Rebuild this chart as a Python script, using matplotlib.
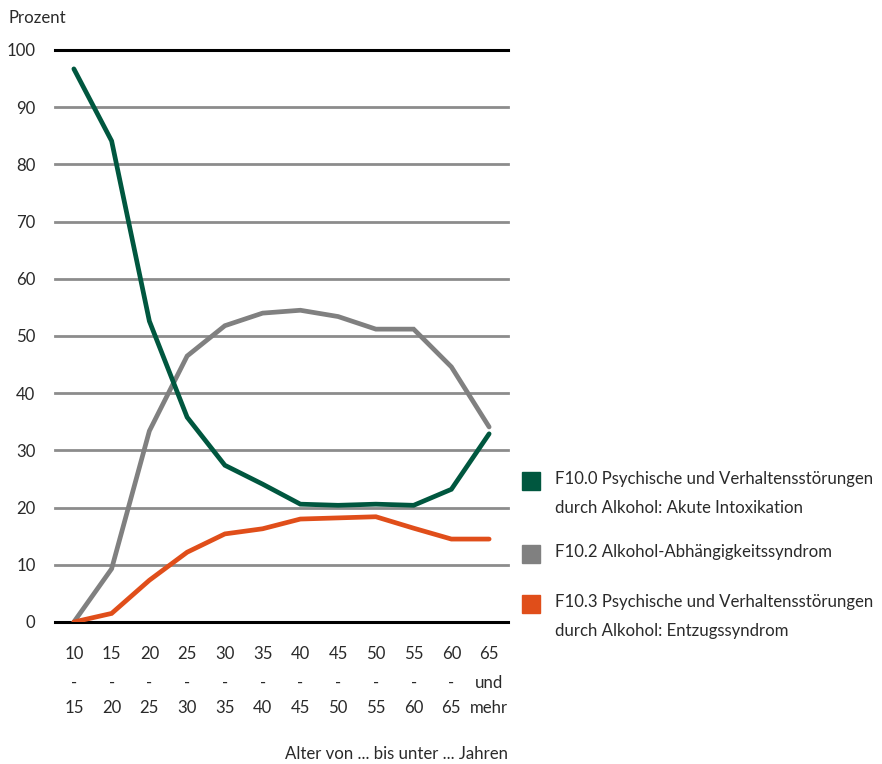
import matplotlib
matplotlib.use("Agg")
import matplotlib.pyplot as plt
import matplotlib.transforms as mtransforms
from matplotlib.patches import Rectangle

plt.rcParams['font.family'] = ['Lato', 'DejaVu Sans']

age_from = ["10", "15", "20", "25", "30", "35", "40", "45", "50", "55", "60", "65"]
age_to = ["15", "20", "25", "30", "35", "40", "45", "50", "55", "60", "65", "mehr"]
age_mid = ["-", "-", "-", "-", "-", "-", "-", "-", "-", "-", "-", "und"]

intoxikation = [96.7, 84.1, 52.6, 35.8, 27.4, 24.1, 20.6, 20.4, 20.6, 20.4, 23.2, 32.9]
abhaengigkeit = [0.0, 9.3, 33.4, 46.5, 51.8, 54.0, 54.5, 53.4, 51.2, 51.2, 44.6, 34.1]
entzug = [0.0, 1.5, 7.3, 12.2, 15.4, 16.3, 18.0, 18.2, 18.4, 16.4, 14.5, 14.5]

series_labels = [
    "F10.0 Psychische und Verhaltensstörungen\ndurch Alkohol: Akute Intoxikation",
    "F10.2 Alkohol-Abhängigkeitssyndrom",
    "F10.3 Psychische und Verhaltensstörungen\ndurch Alkohol: Entzugssyndrom",
]
colors = ["#00573F", "#808080", "#E04E1A"]
yticks = [0, 10, 20, 30, 40, 50, 60, 70, 80, 90, 100]

W, H = 882, 764
FS = 12.1
txt_color = "#2a2a2a"

fig = plt.figure(figsize=(W / 100, H / 100), dpi=100)
ax = fig.add_axes([55 / W, 1 - 622 / H, (508 - 55) / W, (622 - 50) / H])

x = list(range(len(age_from)))
ax.set_xlim(-0.5, len(x) - 0.5)
ax.set_ylim(0, 100)

for t in yticks:
    edge = t in (0, 100)
    ax.axhline(t, color="#000000" if edge else "#8c8c8c", lw=2.2 if edge else 2.0,
               zorder=1, clip_on=False)

for vals, col in zip([abhaengigkeit, entzug, intoxikation], [colors[1], colors[2], colors[0]]):
    ax.plot(x, vals, color=col, lw=3.4, solid_capstyle='round', solid_joinstyle='miter', zorder=3)

for s in ax.spines.values():
    s.set_visible(False)
ax.set_xticks([])
ax.set_yticks(yticks)
ax.set_yticklabels([str(t) for t in yticks], fontsize=FS, color=txt_color)
ax.tick_params(axis='y', length=0, pad=14)

# three-row category labels below the axis
tr = mtransforms.blended_transform_factory(ax.transData, fig.transFigure)
for i in x:
    for lab, py in zip([age_from[i], age_mid[i], age_to[i]], [654, 683, 708]):
        fig.text(i, 1 - py / H, lab, transform=tr, ha='center', va='center',
                 fontsize=FS, color=txt_color)

fig.text(8 / W, 1 - 18 / H, "Prozent", ha='left', va='center', fontsize=FS, color=txt_color)
fig.text(508 / W, 1 - 754 / H, "Alter von ... bis unter ... Jahren", ha='right', va='center',
         fontsize=FS, color=txt_color)

legend_items = [(series_labels[0], colors[0], 481), (series_labels[1], colors[1], 554),
                (series_labels[2], colors[2], 604)]
for lab, col, py in legend_items:
    fig.patches.append(Rectangle((522 / W, 1 - (py + 9) / H), 18 / W, 18 / H,
                                 transform=fig.transFigure, color=col, figure=fig))
    fig.text(555 / W, 1 - (py - 10) / H, lab, ha='left', va='top', fontsize=FS,
             color=txt_color, linespacing=2.0)

fig.savefig("out.png", dpi=100)
